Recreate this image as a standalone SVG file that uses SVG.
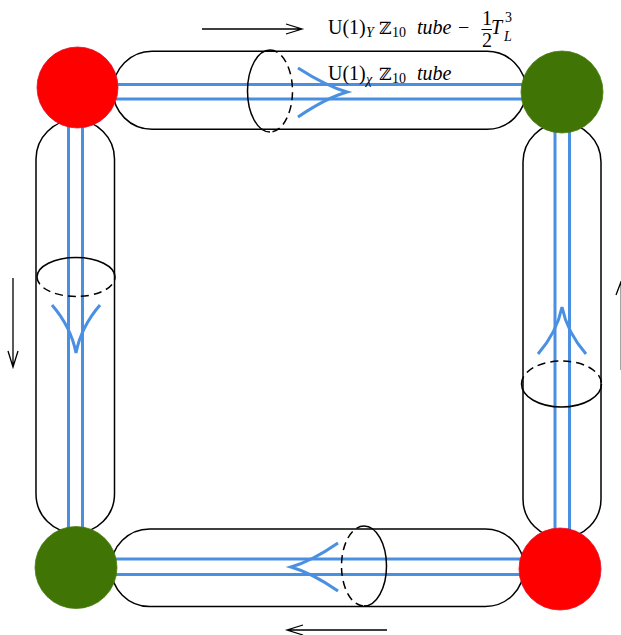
<svg xmlns="http://www.w3.org/2000/svg" width="621" height="635" viewBox="0 0 621 635">
<defs>
<style>
.tube{fill:none;stroke:#000;stroke-width:1.5}
.sol{fill:none;stroke:#000;stroke-width:1.5}
.dash{fill:none;stroke:#000;stroke-width:1.5;stroke-dasharray:8 5}
.blue{fill:none;stroke:#4a90e2;stroke-width:3}
.arr{fill:none;stroke:#000;stroke-width:1.3}
.red{fill:#ff0000;stroke:#e0102a;stroke-width:0.8}
.green{fill:#407404;stroke:#4a7d10;stroke-width:0.8}
.lbl{font-family:"Liberation Serif","DejaVu Serif",serif;font-size:20px;fill:#000}
.it{font-style:italic}
.sub{font-size:14px}
.zz{font-family:"DejaVu Serif",serif;font-size:17px}
</style>
</defs>
<rect width="621" height="635" fill="#fff"/>
<g id="tubes">
<rect id="tube-top" class="tube" x="113" y="51.3" width="413" height="78" rx="39" ry="39"/>
<rect id="tube-left" class="tube" x="36" y="120" width="78.5" height="413" rx="39" ry="39"/>
<rect id="tube-right" class="tube" x="523" y="123" width="78" height="415" rx="39" ry="39"/>
<rect id="tube-bottom" class="tube" x="111" y="529" width="413" height="77.5" rx="38.7" ry="38.7"/>
</g>
<g id="connectors">
<line class="blue" x1="77" y1="84.5" x2="562" y2="84.5"/>
<line class="blue" x1="77" y1="99" x2="562" y2="99"/>
<line class="blue" x1="68.5" y1="88" x2="68.5" y2="567"/>
<line class="blue" x1="82.5" y1="88" x2="82.5" y2="567"/>
<line class="blue" x1="555" y1="92" x2="555" y2="569"/>
<line class="blue" x1="569.5" y1="92" x2="569.5" y2="569"/>
<line class="blue" x1="76" y1="559" x2="560" y2="559"/>
<line class="blue" x1="76" y1="574.5" x2="560" y2="574.5"/>
<path class="blue" d="M298,68 Q326,86 347,92 Q326,98 298,117"/>
<path class="blue" d="M52,305 Q71,327 76,353 Q81,327 100,305"/>
<path class="blue" d="M538,354 Q557,332 562,307 Q567,332 586,354"/>
<path class="blue" d="M338,543 Q312,561 291,567 Q312,573 338,591"/>
</g>
<g id="cuts">
<path class="sol" d="M270,50 A22.5,41 0 0 0 270,132"/>
<path class="dash" d="M270,50 A22.5,41 0 0 1 270,132"/>
<path class="sol" d="M37,277 A39,19.5 0 0 1 115,277"/>
<path class="dash" d="M37,277 A39,19.5 0 0 0 115,277"/>
<path class="sol" d="M521.5,384 A40,23 0 0 0 601.5,384"/>
<path class="dash" d="M521.5,384 A40,23 0 0 1 601.5,384"/>
<path class="sol" d="M364,526 A22.5,40 0 0 1 364,606"/>
<path class="dash" d="M364,526 A22.5,40 0 0 0 364,606"/>
</g>
<g id="node-tl"><circle class="red" cx="77.5" cy="87.5" r="40.5"/></g>
<g id="node-tr"><circle class="green" cx="562" cy="92" r="41"/></g>
<g id="node-bl"><circle class="green" cx="76" cy="567.5" r="41"/></g>
<g id="node-br"><circle class="red" cx="560" cy="569" r="41"/></g>
<g id="arrows">
<path class="arr" d="M202,29 H302 M286,24 L302,29 L286,34"/>
<path class="arr" d="M13,278 V367 M8,351 L13,367 L18,351"/>
<path class="arr" d="M387,630 H287 M303,625 L287,630 L303,635"/>
<path class="arr" d="M621.3,370 V281 M616,295 L621.3,281"/>
</g>
<g id="label-top" class="lbl">
<text x="328" y="34">U(1)</text>
<text class="it sub" x="366" y="37">Y</text>
<text class="zz" x="379" y="34">ℤ</text>
<text class="sub" x="392" y="37">10</text>
<text class="it" x="417" y="34">tube</text>
<text x="458" y="34">−</text>
<text x="482" y="25">1</text>
<line x1="481.5" y1="29.5" x2="492" y2="29.5" stroke="#000" stroke-width="1"/>
<text x="482" y="47">2</text>
<text class="it" x="491" y="34">T</text>
<text class="sub" x="505" y="22">3</text>
<text class="it sub" x="504" y="41">L</text>
</g>
<g id="label-mid" class="lbl">
<text x="328" y="80">U(1)</text>
<text class="it sub" x="366" y="84">χ</text>
<text class="zz" x="379" y="80">ℤ</text>
<text class="sub" x="392" y="83">10</text>
<text class="it" x="417" y="80">tube</text>
</g>
</svg>
